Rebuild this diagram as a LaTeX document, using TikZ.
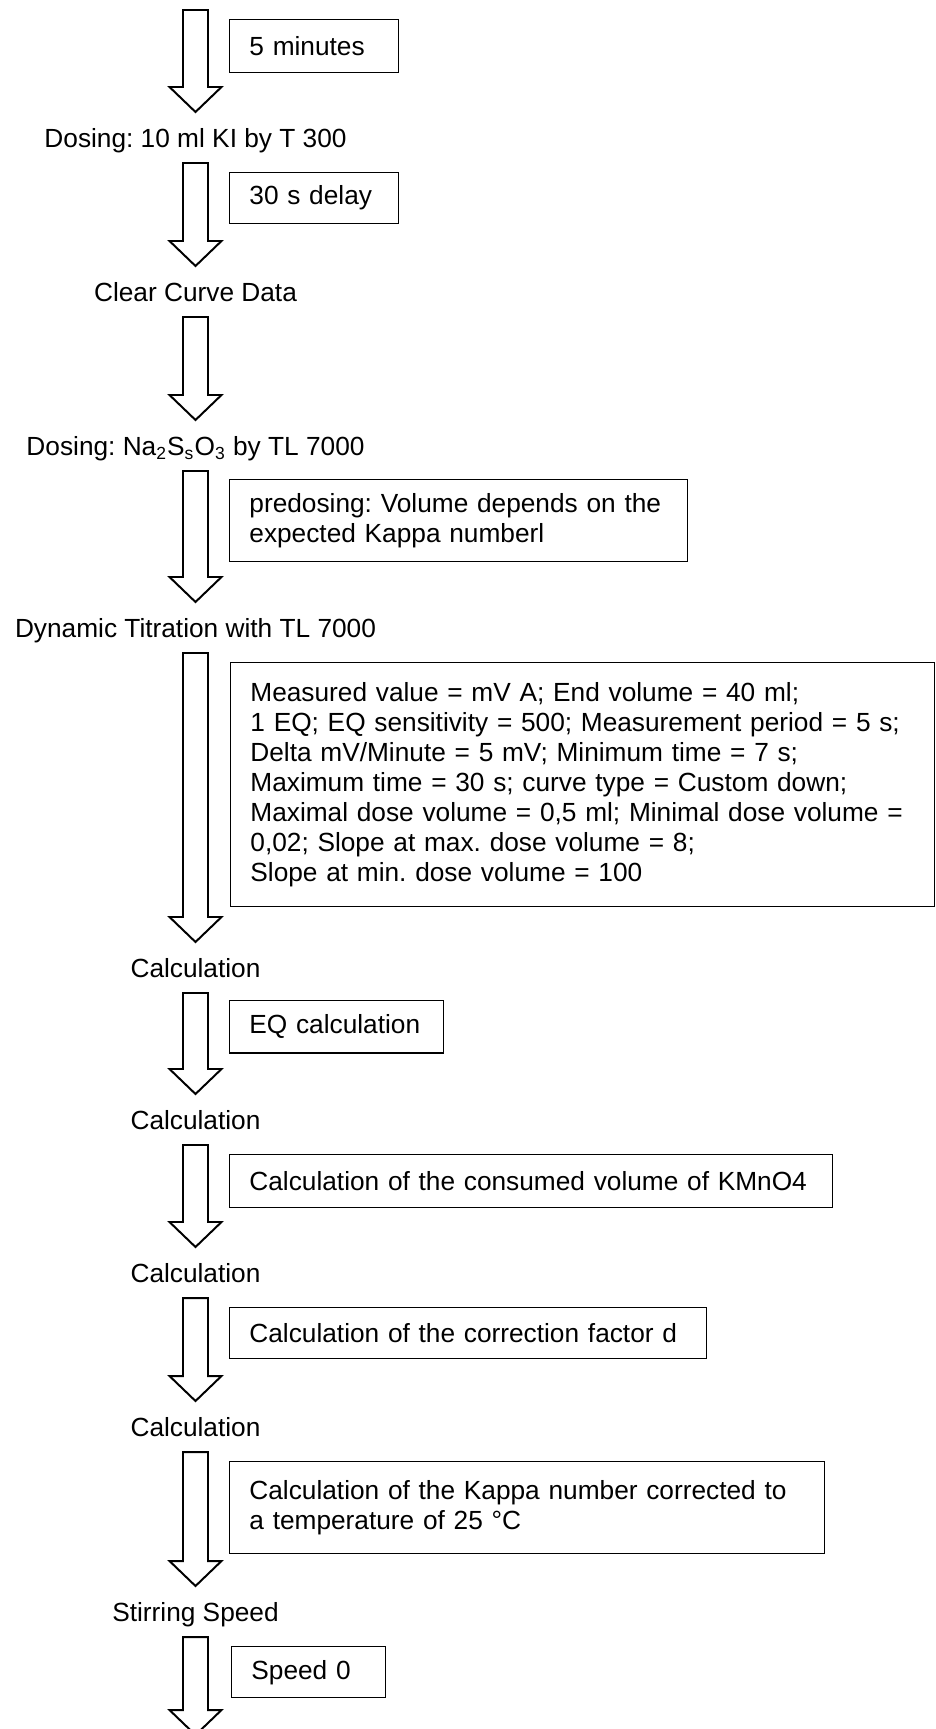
\documentclass[tikz,border=0pt]{standalone}
\usepackage{fontspec}
\setmainfont{Liberation Sans}
\usetikzlibrary{calc}

% hollow block arrow from one step label down to the next
\newcommand{\flowarrow}[2]{%
  \draw[line width=0.9pt]
    ($(#1)+(-12.5,25)$) -- ($(#2)+(-12.5,-51)$) -- ($(#2)+(-26,-51)$)
    -- ($(#2)+(0,-26)$) -- ($(#2)+(26,-51)$) -- ($(#2)+(12.5,-51)$)
    -- ($(#1)+(12.5,25)$) -- cycle;}

\begin{document}
\frenchspacing
\begin{tikzpicture}[x=0.457pt, y=-0.457pt,
  every node/.style={font=\fontsize{12}{13.7}\selectfont},
  steplabel/.style={inner sep=0pt, text height=8.6pt, text depth=0pt},
  notebox/.style={draw, line width=0.65pt, anchor=north west, align=left,
    inner xsep=9pt, inner ysep=0pt}]

\useasboundingbox (0,0) rectangle (936,1729);

% Steps
\coordinate (start) at (195.5,-15);
\node[steplabel] (dosingki) at (195.5,138) {Dosing: 10 ml KI by T 300};
\node[steplabel] (clear) at (195.5,292) {Clear Curve Data};
\node[steplabel] (dosingna) at (195.5,446)
{Dosing: Na\textsubscript{2}S\textsubscript{s}O\textsubscript{3} by TL 7000};
\node[steplabel] (titration) at (195.5,628) {Dynamic Titration with TL 7000};
\node[steplabel] (calcA) at (195.5,968) {Calculation};
\node[steplabel] (calcB) at (195.5,1120) {Calculation};
\node[steplabel] (calcC) at (195.5,1273) {Calculation};
\node[steplabel] (calcD) at (195.5,1427) {Calculation};
\node[steplabel] (stirring) at (195.5,1612) {Stirring Speed};
\coordinate (finish) at (195.5,1761);

% Notes beside the arrows
\node[notebox, text width=59.2pt, minimum height=24.2pt] (wait) at (229,19)
{5 minutes};
\node[notebox, text width=59.2pt, minimum height=23.3pt] (delay) at (229,172)
{30 s delay};
\node[notebox, text width=191.3pt, minimum height=37.5pt] (predosing) at (229,479)
{predosing: Volume depends on the\\
expected Kappa numberl};
\node[notebox, text width=303.7pt, minimum height=111.5pt] (params) at (230,662)
{Measured value = mV A; End volume = 40 ml;\\
1 EQ; EQ sensitivity = 500; Measurement period = 5 s;\\
Delta mV/Minute = 5 mV; Minimum time = 7 s;\\
Maximum time = 30 s; curve type = Custom down;\\
Maximal dose volume = 0,5 ml; Minimal dose volume =\\
0,02; Slope at max. dose volume = 8;\\
Slope at min. dose volume = 100};
\node[notebox, text width=79.8pt, minimum height=23.8pt] (eq) at (229,1000)
{EQ calculation};
\node[notebox, text width=257.6pt, minimum height=24.2pt] (consumed) at (229,1154)
{Calculation of the consumed volume of KMnO4};
\node[notebox, text width=200pt, minimum height=23.3pt] (factor) at (229,1307)
{Calculation of the correction factor d};
\node[notebox, text width=253.9pt, minimum height=42pt] (kappa) at (229,1461)
{Calculation of the Kappa number corrected to\\
a temperature of 25 °C};
\node[notebox, text width=52.4pt, minimum height=23.3pt] (speed) at (231,1646)
{Speed 0};

% Arrows
\flowarrow{start}{dosingki}
\flowarrow{dosingki}{clear}
\flowarrow{clear}{dosingna}
\flowarrow{dosingna}{titration}
\flowarrow{titration}{calcA}
\flowarrow{calcA}{calcB}
\flowarrow{calcB}{calcC}
\flowarrow{calcC}{calcD}
\flowarrow{calcD}{stirring}
\flowarrow{stirring}{finish}

\end{tikzpicture}
\end{document}
